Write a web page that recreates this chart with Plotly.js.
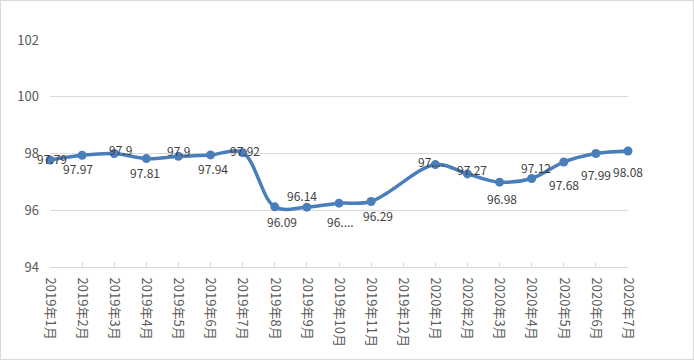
<!DOCTYPE html>
<html>
<head>
<meta charset="utf-8">
<script src="https://cdn.plot.ly/plotly-3.0.1.min.js"></script>
<style>
html,body{margin:0;padding:0;background:#fff;}
#chart{position:absolute;left:0;top:0;width:694px;height:360px;}
#frame{position:absolute;left:0;top:0;width:694px;height:360px;box-sizing:border-box;border:1px solid #d9d9d9;pointer-events:none;}
</style>
</head>
<body>
<div id="chart"></div>
<div id="frame"></div>
<script>
// Data
var months = ["2019年1月","2019年2月","2019年3月","2019年4月","2019年5月","2019年6月","2019年7月","2019年8月","2019年9月","2019年10月","2019年11月","2019年12月","2020年1月","2020年2月","2020年3月","2020年4月","2020年5月","2020年6月","2020年7月"];
var values = [97.77, 97.94, 98.0, 97.82, 97.9, 97.95, 98.03, 96.12, 96.11, 96.25, 96.31, null, 97.61, 97.28, 96.99, 97.12, 97.7, 98.0, 98.09];
var valueLabels = ["97.79","97.97","97.9","97.81","97.9","97.94","97.92","96.09","96.14","96....","96.29","","97....","97.27","96.98","97.12","97.68","97.99","98.08"];
var yTicks = [94, 96, 98, 100, 102];

// Label offsets from each point, in pixels (style only)
var labelDx = [2, -4, 6, -1, 0, 2, 2, 7, -5, 1, 7, 0, -4, 5, 2, 4, 0, 0, 0];
var labelDy = [-2, 13, -4, 14, -6, 14, -2, 15, -12, 18, 14, 0, -3, -4, 16, -11, 22, 21, 21];

var trace = {
  x: months,
  y: values,
  type: "scatter",
  mode: "lines+markers",
  connectgaps: true,
  line: {color: "#4a7ebb", width: 3.5, shape: "spline", smoothing: 1},
  marker: {color: "#4a7ebb", size: 9},
  cliponaxis: false,
  hoverinfo: "none"
};

var annotations = [];
for (var i = 0; i < months.length; i++) {
  if (values[i] === null || !valueLabels[i]) continue;
  annotations.push({
    x: months[i], y: values[i], xref: "x", yref: "y",
    text: valueLabels[i], showarrow: false,
    xanchor: "center", yanchor: "middle",
    xshift: labelDx[i], yshift: -labelDy[i],
    font: {family: "Noto Sans CJK SC, Noto Sans, sans-serif", size: 12, color: "#404040"}
  });
}

var layout = {
  width: 694, height: 360,
  margin: {l: 50, r: 66, t: 40, b: 93, pad: 0},
  paper_bgcolor: "#ffffff",
  plot_bgcolor: "#ffffff",
  showlegend: false,
  font: {family: "Noto Sans CJK SC, Noto Sans, sans-serif", color: "#595959"},
  annotations: annotations,
  xaxis: {
    type: "category",
    categoryorder: "array",
    categoryarray: months,
    range: [0, months.length - 1],
    showgrid: false,
    zeroline: false,
    showline: true,
    linecolor: "#d9d9d9",
    linewidth: 1,
    ticks: "inside",
    ticklen: 5,
    tickcolor: "#d9d9d9",
    tickangle: 90,
    ticklabelstandoff: 7,
    tickfont: {size: 13, color: "#595959"},
    fixedrange: true
  },
  yaxis: {
    range: [94, 102],
    tickvals: yTicks,
    ticktext: yTicks.map(String),
    showgrid: true,
    gridcolor: "#d9d9d9",
    gridwidth: 1,
    zeroline: false,
    showline: false,
    ticks: "",
    ticklabelstandoff: 10,
    tickfont: {size: 13, color: "#595959"},
    fixedrange: true
  }
};

Plotly.newPlot("chart", [trace], layout, {displayModeBar: false, staticPlot: true});
</script>
</body>
</html>
